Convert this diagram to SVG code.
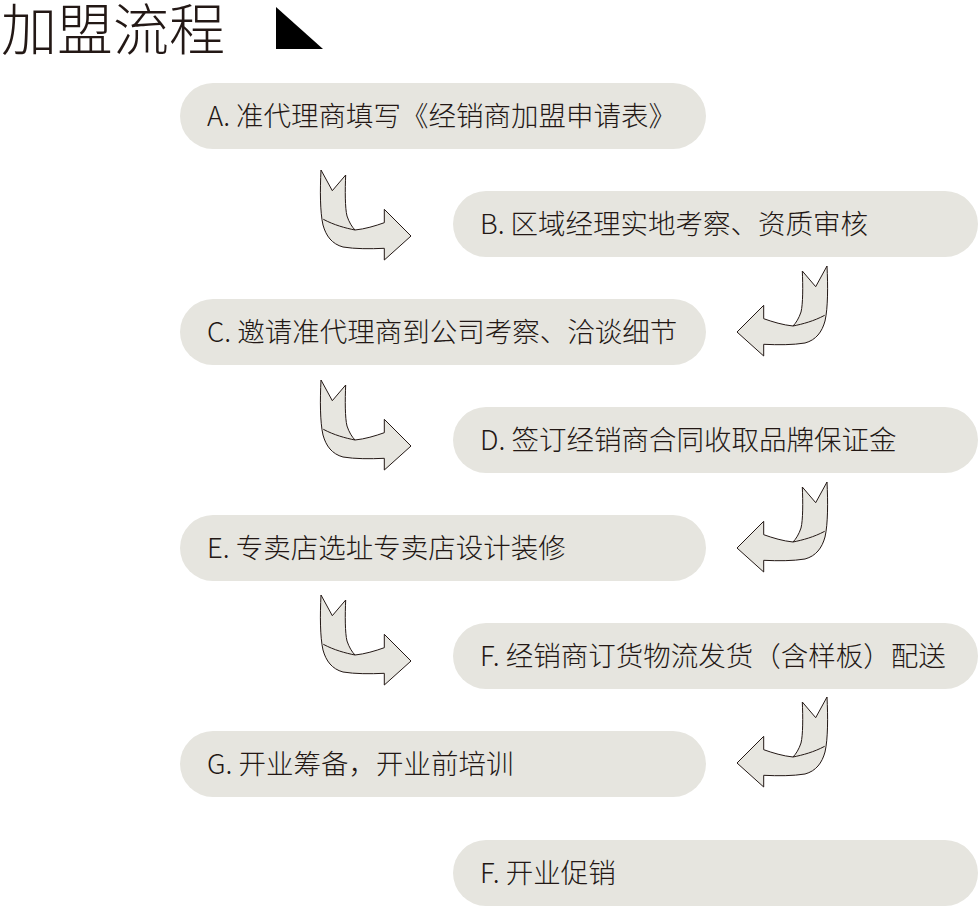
<svg xmlns="http://www.w3.org/2000/svg" xmlns:xlink="http://www.w3.org/1999/xlink" width="980" height="907" viewBox="0 0 980 907">
<style>
.pill{fill:#e6e5df;}
.t{font-family:"Noto Sans CJK SC","Liberation Sans",sans-serif;font-size:27.5px;font-weight:300;fill:#231815;}
.title{font-family:"Noto Sans CJK SC","Liberation Sans",sans-serif;font-size:56px;font-weight:300;fill:#231815;}
.arr{fill:#e7e6e0;stroke:#231815;stroke-width:1;stroke-linejoin:miter;}
.fold{fill:none;stroke:#231815;stroke-width:1;}
</style>
<defs>
<g id="arrow">
<path class="arr" d="M1,0 L12.3,20.7 L25.7,5 C25,20 25,38 27,46 C29,52 32,57 35,60 C45,59 55,56 64.3,52.7 L64.3,39.3 L91,66 L64.3,90 L64.3,78.3 C50,79 35,79 23,77 C12,74 6,66 3,55 C0,42 0,20 1,0 Z"/>
<path class="fold" d="M3.3,49.3 C14,55 25,58 35,60"/>
</g>
</defs>
<rect width="980" height="907" fill="#ffffff"/>
<g id="title">
<text class="title" x="1" y="50">加盟流程</text>
<polygon points="276,7 276,49 323,49" fill="#000000"/>
</g>
<g id="nodeA"><rect class="pill" x="180" y="83" width="526" height="66" rx="33"/><text class="t" x="207" y="126">A. 准代理商填写《经销商加盟申请表》</text></g>
<g id="nodeB"><rect class="pill" x="453" y="191" width="525" height="66" rx="33"/><text class="t" x="480" y="234">B. 区域经理实地考察、资质审核</text></g>
<g id="nodeC"><rect class="pill" x="180" y="299" width="526" height="66" rx="33"/><text class="t" x="207" y="342">C. 邀请准代理商到公司考察、洽谈细节</text></g>
<g id="nodeD"><rect class="pill" x="453" y="407" width="525" height="66" rx="33"/><text class="t" x="480" y="450">D. 签订经销商合同收取品牌保证金</text></g>
<g id="nodeE"><rect class="pill" x="180" y="515" width="526" height="66" rx="33"/><text class="t" x="207" y="558">E. 专卖店选址专卖店设计装修</text></g>
<g id="nodeF"><rect class="pill" x="453" y="623" width="525" height="66" rx="33"/><text class="t" x="480" y="666">F. 经销商订货物流发货（含样板）配送</text></g>
<g id="nodeG"><rect class="pill" x="180" y="731" width="526" height="66" rx="33"/><text class="t" x="207" y="774">G. 开业筹备，开业前培训</text></g>
<g id="nodeH"><rect class="pill" x="453" y="840" width="525" height="66" rx="33"/><text class="t" x="480" y="883">F. 开业促销</text></g>
<g id="connectors">
<use xlink:href="#arrow" transform="translate(320,170)"/>
<use xlink:href="#arrow" transform="translate(828,266) scale(-1,1)"/>
<use xlink:href="#arrow" transform="translate(320,380)"/>
<use xlink:href="#arrow" transform="translate(828,482) scale(-1,1)"/>
<use xlink:href="#arrow" transform="translate(320,595)"/>
<use xlink:href="#arrow" transform="translate(828,697) scale(-1,1)"/>
</g>
</svg>
